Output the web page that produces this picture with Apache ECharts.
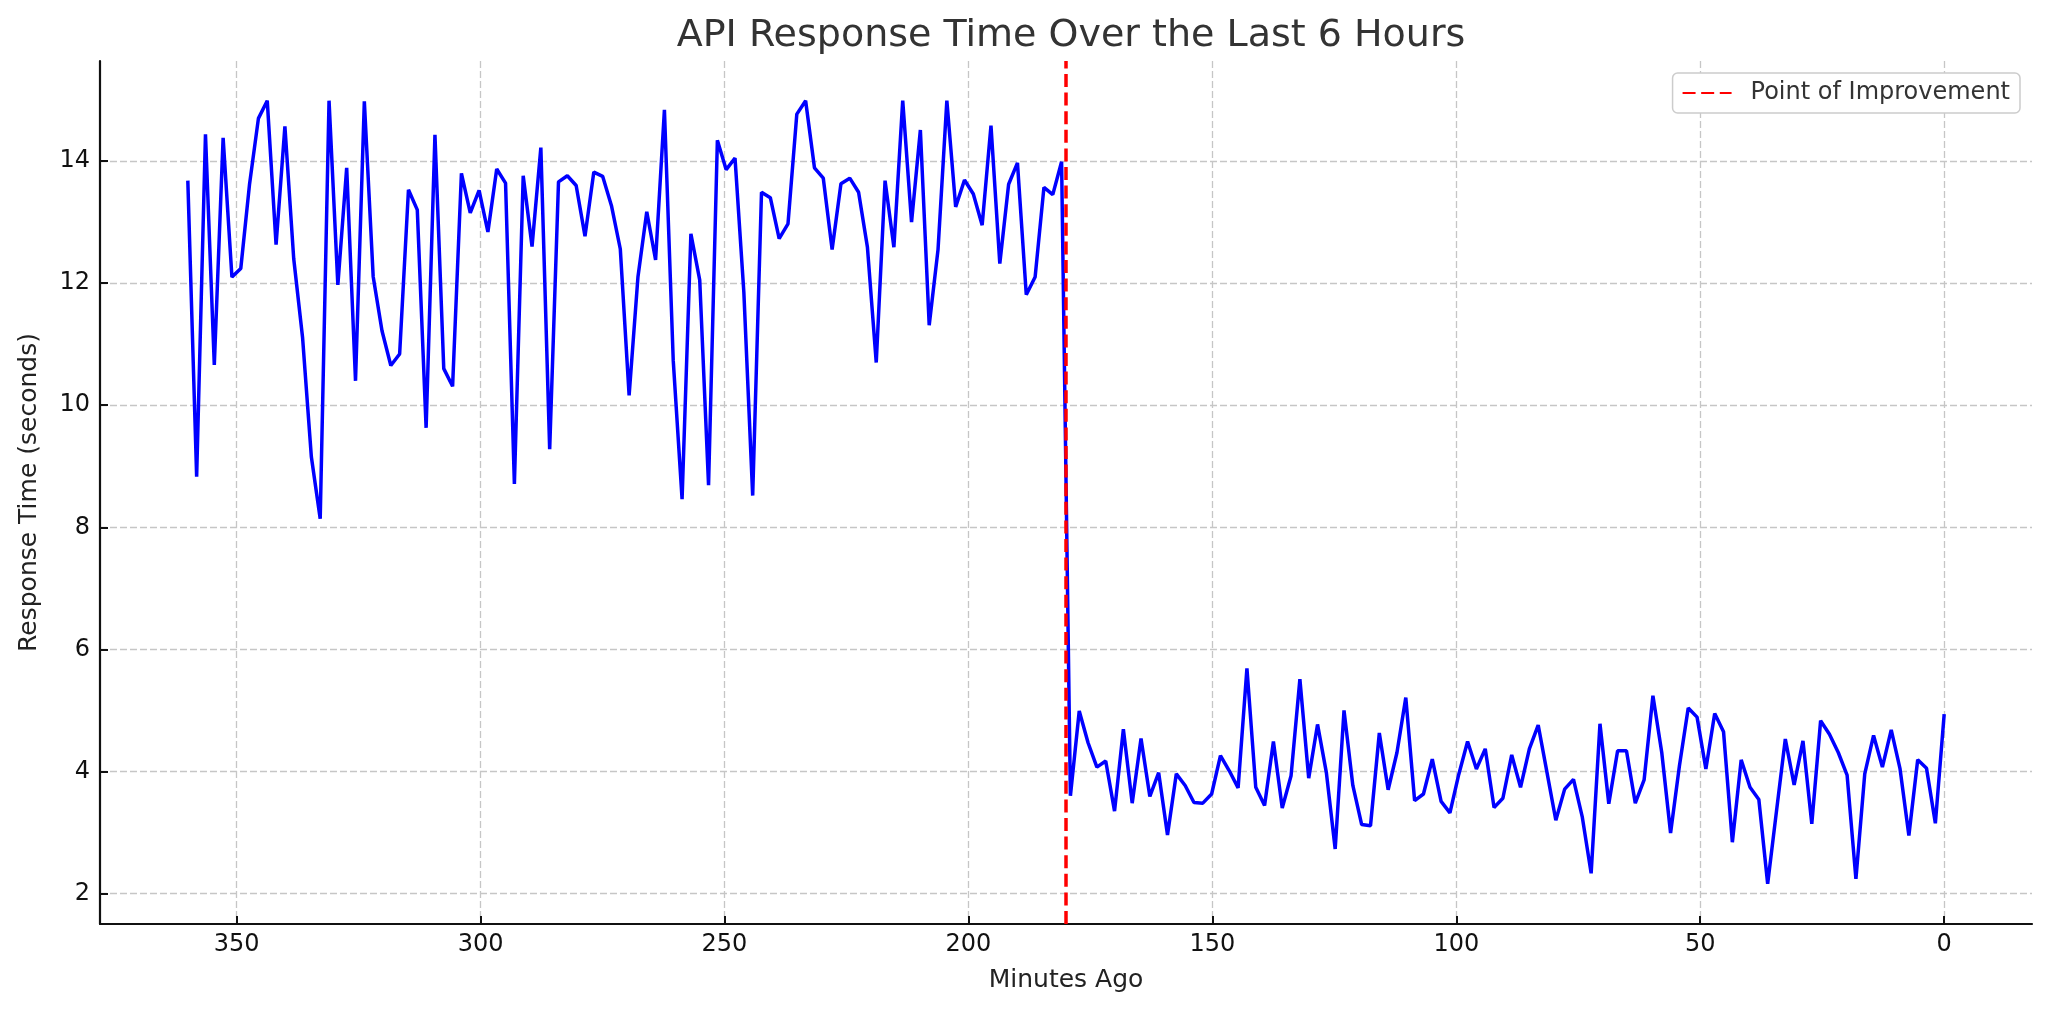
<!DOCTYPE html>
<html>
<head>
<meta charset="utf-8">
<title>API Response Time</title>
<script src="https://cdn.jsdelivr.net/npm/echarts@6/dist/echarts.min.js"></script>
<style>
  html, body { margin: 0; padding: 0; background: #fff; }
  #chart { width: 2048px; height: 1016px; }
</style>
</head>
<body>
<div id="chart"></div>
<script>
// response time (seconds), sampled evenly from 360 minutes ago down to now
var beforeFix = [
  13.68, 8.83, 14.44, 10.66, 14.38, 12.10, 12.24, 13.63, 14.70, 14.99,
  12.63, 14.57, 12.40, 11.11, 9.15, 8.14, 14.99, 11.97, 13.89, 10.40,
  14.98, 12.11, 11.22, 10.65, 10.84, 13.53, 13.20, 9.63, 14.43, 10.60,
  10.31, 13.80, 13.15, 13.52, 12.84, 13.87, 13.64, 8.71, 13.76, 12.60,
  14.22, 9.28, 13.66, 13.76, 13.60, 12.77, 13.82, 13.75, 13.27, 12.56,
  10.16, 12.10, 13.17, 12.38, 14.84, 10.73, 8.46, 12.81, 12.05, 8.69,
  14.34, 13.86, 14.05, 11.85, 8.52, 13.49, 13.40, 12.73, 12.97, 14.77,
  14.99, 13.89, 13.72, 12.55, 13.63, 13.72, 13.49, 12.59, 10.70, 13.68,
  12.59, 14.99, 13.00, 14.51, 11.31, 12.55, 14.99, 13.25, 13.69, 13.46,
  12.95, 14.58, 12.32, 13.62, 13.97, 11.81, 12.10, 13.57, 13.45, 13.99
];
var afterFix = [
  3.60, 4.99, 4.47, 4.07, 4.17, 3.35, 4.69, 3.48, 4.54, 3.59,
  3.98, 2.96, 3.96, 3.77, 3.49, 3.48, 3.63, 4.26, 4.01, 3.73,
  5.69, 3.74, 3.44, 4.49, 3.40, 3.93, 5.51, 3.89, 4.77, 3.98,
  2.73, 5.00, 3.77, 3.13, 3.11, 4.63, 3.70, 4.31, 5.21, 3.52,
  3.63, 4.20, 3.51, 3.32, 3.95, 4.49, 4.04, 4.37, 3.41, 3.56,
  4.27, 3.74, 4.37, 4.76, 3.98, 3.20, 3.71, 3.87, 3.25, 2.33,
  4.78, 3.47, 4.34, 4.34, 3.48, 3.86, 5.24, 4.31, 2.99, 4.09,
  5.04, 4.89, 4.04, 4.95, 4.65, 2.84, 4.19, 3.74, 3.54, 2.16,
  3.35, 4.53, 3.78, 4.50, 3.14, 4.83, 4.61, 4.31, 3.94, 2.24,
  3.96, 4.59, 4.07, 4.68, 4.04, 2.95, 4.19, 4.05, 3.15, 4.94
];
var windowMinutes = 360;
var improvementMinute = 180;
var xTicks = [0, 50, 100, 150, 200, 250, 300, 350];
var yTicks = [2, 4, 6, 8, 10, 12, 14];

var responseTimes = beforeFix.concat(afterFix);
var minutesAgo = responseTimes.map(function (v, i) {
  return windowMinutes - i * windowMinutes / (responseTimes.length - 1);
});
var points = responseTimes.map(function (v, i) { return [minutesAgo[i], v]; });

var font = 'DejaVu Sans';
var gridLine = { color: '#c6c6c6', width: 1.3, type: [7, 3] };

var chart = echarts.init(document.getElementById('chart'), null, { renderer: 'canvas' });
var option = {
  animation: false,
  backgroundColor: '#fff',
  title: {
    text: 'API Response Time Over the Last 6 Hours',
    left: 1066,
    textAlign: 'center',
    top: 12,
    textStyle: { fontFamily: font, fontSize: 38, fontWeight: 'normal', color: '#333' }
  },
  legend: {
    data: ['Point of Improvement'],
    right: 28,
    top: 73,
    padding: [8, 10, 8, 9],
    backgroundColor: '#fff',
    borderColor: '#cccccc',
    borderWidth: 1.5,
    borderRadius: 5,
    itemWidth: 49,
    itemHeight: 14,
    itemStyle: { opacity: 0 },
    textStyle: { fontFamily: font, fontSize: 24, color: '#333', padding: [0, 0, 0, 14] }
  },
  grid: { left: 100, right: 16, top: 61, bottom: 92 },
  xAxis: {
    type: 'value',
    inverse: true,
    min: -18,
    max: 378,
    name: 'Minutes Ago',
    nameLocation: 'middle',
    nameGap: 44,
    nameTextStyle: { fontFamily: font, fontSize: 25, color: '#222' },
    axisLine: { onZero: false, lineStyle: { color: '#111', width: 2.2 } },
    axisTick: { inside: true, length: 8, customValues: xTicks, lineStyle: { color: '#111', width: 2 } },
    axisLabel: { customValues: xTicks, margin: 9, fontFamily: font, fontSize: 24, color: '#111' },
    splitLine: { show: true, lineStyle: gridLine }
  },
  yAxis: {
    type: 'value',
    min: 1.5,
    max: 15.64,
    name: 'Response Time (seconds)',
    nameLocation: 'middle',
    nameGap: 58,
    nameTextStyle: { fontFamily: font, fontSize: 25, color: '#222' },
    axisLine: { show: true, onZero: false, lineStyle: { color: '#111', width: 2.2 } },
    axisTick: { show: true, inside: true, length: 8, customValues: yTicks, lineStyle: { color: '#111', width: 2 } },
    axisLabel: { customValues: yTicks, margin: 10, fontFamily: font, fontSize: 24, color: '#111' },
    splitLine: { show: true, lineStyle: gridLine }
  },
  series: [
    {
      name: 'Response Time',
      type: 'line',
      data: points,
      showSymbol: false,
      symbol: 'none',
      z: 2,
      lineStyle: { color: '#0000ff', width: 3.5 },
      itemStyle: { color: '#0000ff' }
    },
    {
      name: 'Point of Improvement',
      type: 'line',
      data: [],
      symbol: 'none',
      z: 3,
      color: '#ff0000',
      lineStyle: { color: '#ff0000', width: 3.5, type: [13, 5.6] },
      markLine: {
        silent: true,
        symbol: ['none', 'none'],
        label: { show: false },
        lineStyle: { color: '#ff0000', width: 3.5, type: [13, 5.6] },
        emphasis: { disabled: true },
        data: [{ xAxis: improvementMinute }]
      }
    }
  ]
};

chart.setOption(option);
</script>
</body>
</html>
